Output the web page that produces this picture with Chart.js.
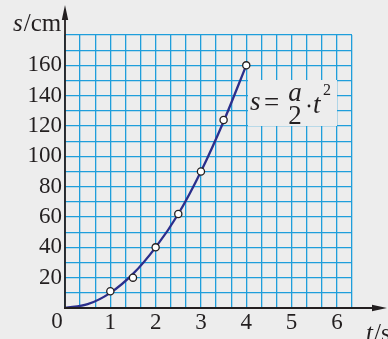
<!DOCTYPE html>
<html lang="en">
  <head>
    <meta charset="utf-8">
    <title>s-t graph</title>
    <script src="https://cdn.jsdelivr.net/npm/chart.js@4/dist/chart.umd.min.js"></script>
    <style>
      html, body { margin: 0; padding: 0; background: #ededed; }
    </style>
  </head>
  <body>
    <canvas id="chartCanvas" width="388" height="339"></canvas>
    <script>
      // measured points
      const tPoints = [1, 1.5, 2, 2.5, 3, 3.5, 4];
      const sPoints = [11, 20, 40, 62, 90, 124, 160];
      // fitted curve s = a/2 * t^2
      const curveT = [0, 0.5, 1, 1.5, 2, 2.5, 3, 3.5, 4];
      const curveS = [0, 2.5, 10, 22.5, 40, 62, 90, 123, 160];
      // axis labels
      const xTickLabels = [1, 2, 3, 4, 5, 6];
      const yTickLabels = [20, 40, 60, 80, 100, 120, 140, 160];

      const serif = '"Liberation Serif", "Times New Roman", serif';
      const gridBlue = '#1f9edb';
      const ink = '#231f20';
      const curveBlue = '#2b2e8c';

      const toXY = (xs, ys) => xs.map((x, i) => ({ x: x, y: ys[i] }));

      const paper = {
        id: 'paper',
        beforeDraw(chart) {
          const c = chart.ctx;
          c.save();
          c.fillStyle = '#ededed';
          c.fillRect(0, 0, chart.width, chart.height);
          c.restore();
        },
        beforeDatasetsDraw(chart) {
          // formula label box over the grid
          const c = chart.ctx;
          c.save();
          c.fillStyle = '#ededed';
          c.fillRect(248, 80, 89, 46);
          c.fillStyle = ink;
          c.textBaseline = 'alphabetic';
          c.font = 'italic 27px ' + serif;
          c.textAlign = 'left';
          c.fillText('s', 250, 110);
          c.font = '27px ' + serif;
          c.fillText('=', 264, 111);
          c.textAlign = 'center';
          c.font = 'italic 27px ' + serif;
          c.fillText('a', 295, 101);
          c.font = '27px ' + serif;
          c.fillText('2', 295, 124);
          c.beginPath();
          c.arc(309, 106, 1.4, 0, Math.PI * 2);
          c.fill();
          c.textAlign = 'left';
          c.font = 'italic 27px ' + serif;
          c.fillText('t', 313, 113);
          c.font = '16px ' + serif;
          c.fillText('2', 323, 95);
          c.restore();
        },
        afterDraw(chart) {
          const c = chart.ctx;
          const xs = chart.scales.x, ys = chart.scales.y;
          const x0 = xs.getPixelForValue(0), y0 = ys.getPixelForValue(0);
          c.save();
          c.strokeStyle = ink;
          c.fillStyle = ink;
          c.lineWidth = 1.8;
          // y axis with arrow
          c.beginPath();
          c.moveTo(x0, y0 + 1);
          c.lineTo(x0, 14);
          c.stroke();
          c.beginPath();
          c.moveTo(x0, 5);
          c.lineTo(x0 - 3.2, 20);
          c.lineTo(x0 + 3.2, 20);
          c.closePath();
          c.fill();
          // x axis with arrow
          c.beginPath();
          c.moveTo(x0 - 1, y0);
          c.lineTo(378, y0);
          c.stroke();
          c.beginPath();
          c.moveTo(387, y0);
          c.lineTo(372, y0 - 3.2);
          c.lineTo(372, y0 + 3.2);
          c.closePath();
          c.fill();
          // axis titles and origin
          c.textBaseline = 'alphabetic';
          c.textAlign = 'left';
          c.font = 'italic 25px ' + serif;
          c.fillText('s', 13, 31);
          let w = c.measureText('s').width;
          c.font = '25px ' + serif;
          c.fillText('/cm', 13 + w + 1, 31);
          c.font = 'italic 25px ' + serif;
          c.fillText('t', 366, 341);
          w = c.measureText('t').width;
          c.font = '25px ' + serif;
          c.fillText('/s', 366 + w + 1, 341);
          c.textAlign = 'center';
          c.textBaseline = 'middle';
          c.font = '23px ' + serif;
          c.fillText('0', x0 - 8, 322);
          c.restore();
        }
      };

      const isInt = v => Math.abs(v - Math.round(v)) < 1e-6;

      new Chart(document.getElementById('chartCanvas'), {
        type: 'scatter',
        data: {
          datasets: [
            {
              data: toXY(tPoints, sPoints),
              showLine: false,
              pointRadius: 3.6,
              pointBorderWidth: 1.3,
              pointBackgroundColor: '#ffffff',
              pointBorderColor: ink,
              order: 0
            },
            {
              data: toXY(curveT, curveS),
              showLine: true,
              pointRadius: 0,
              borderColor: curveBlue,
              borderWidth: 2.3,
              cubicInterpolationMode: 'monotone',
              order: 1
            }
          ]
        },
        options: {
          responsive: false,
          animation: false,
          events: [],
          layout: { padding: { left: 0, right: 36, top: 35, bottom: 0 } },
          plugins: { legend: { display: false }, tooltip: { enabled: false } },
          scales: {
            x: {
              type: 'linear',
              min: 0,
              max: 19 / 3,
              afterBuildTicks: s => {
                s.ticks = Array.from({ length: 20 }, (v, i) => ({ value: i / 3 }));
              },
              afterFit: s => { s.height = 31; },
              border: { display: false },
              grid: { color: gridBlue, lineWidth: 1.3, drawTicks: false },
              ticks: {
                autoSkip: false,
                maxRotation: 0,
                padding: 1,
                color: ink,
                font: { family: serif, size: 23 },
                callback: v => (isInt(v) && xTickLabels.includes(Math.round(v))) ? String(Math.round(v)) : ''
              }
            },
            y: {
              min: 0,
              max: 180,
              afterFit: s => { s.width = 65; },
              border: { display: false },
              grid: { color: gridBlue, lineWidth: 1.3, drawTicks: false },
              ticks: {
                stepSize: 10,
                autoSkip: false,
                padding: 3,
                color: ink,
                font: { family: serif, size: 23 },
                callback: v => yTickLabels.includes(v) ? String(v) : ''
              }
            }
          }
        },
        plugins: [paper]
      });
    </script>
  </body>
</html>
